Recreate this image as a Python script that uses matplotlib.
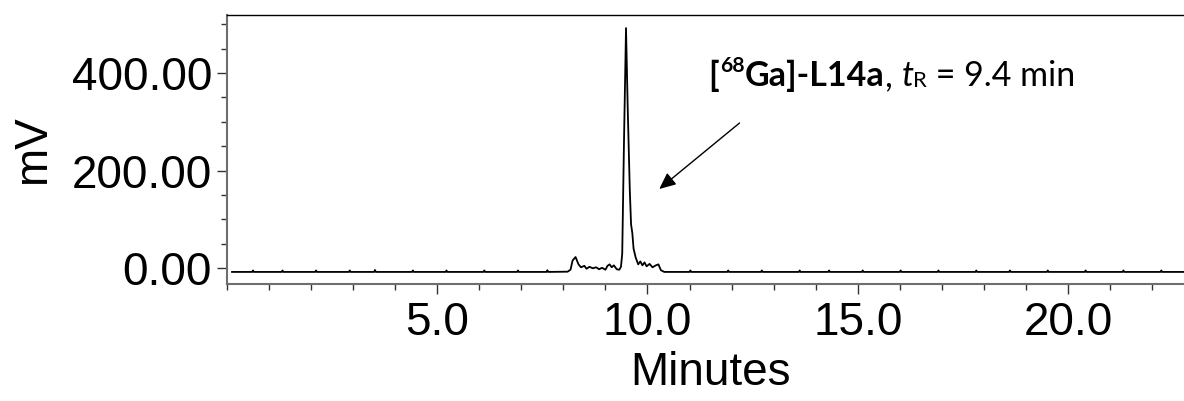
import matplotlib
matplotlib.use("Agg")
import matplotlib.pyplot as plt
from matplotlib.ticker import MultipleLocator, FormatStrFormatter

# Chromatogram trace (minutes, mV)
time_min = [0.12, 0.60, 0.62, 0.64, 1.30, 1.32, 1.34, 2.10, 2.12, 2.14,
            2.90, 2.92, 2.94, 3.50, 3.52, 3.54, 4.40, 4.42, 4.44, 5.20,
            5.22, 5.24, 6.10, 6.12, 6.14, 6.90, 6.92, 6.94, 7.60, 7.62,
            7.64, 8.10, 8.17, 8.22, 8.29, 8.36, 8.42, 8.50, 8.55, 8.62,
            8.70, 8.78, 8.85, 8.92, 9.00, 9.05, 9.10, 9.15, 9.20, 9.27,
            9.33, 9.37, 9.40, 9.44, 9.49, 9.53, 9.58, 9.61, 9.64, 9.67,
            9.72, 9.78, 9.83, 9.88, 9.93, 9.98, 10.05, 10.12, 10.20, 10.26,
            10.32, 10.40, 11.00, 11.02, 11.04, 11.90, 11.92, 11.94, 12.70, 12.72,
            12.74, 13.60, 13.62, 13.64, 14.30, 14.32, 14.34, 15.10, 15.12, 15.14,
            16.00, 16.02, 16.04, 16.90, 16.92, 16.94, 17.80, 17.82, 17.84, 18.60,
            18.62, 18.64, 19.50, 19.52, 19.54, 20.40, 20.42, 20.44, 21.30, 21.32,
            21.34, 22.20, 22.22, 22.24, 22.80]
signal_mv = [-7.5, -7.5, -4.5, -7.5, -7.5, -4.5, -7.5, -7.5, -4.5, -7.5,
             -7.5, -4.5, -7.5, -7.5, -3.5, -7.5, -7.5, -4.5, -7.5, -7.5,
             -4.5, -7.5, -7.5, -4.5, -7.5, -7.5, -4.5, -7.5, -7.5, -4.0,
             -7.5, -7.0, -3.0, 16.0, 23.0, 8.0, 2.0, 5.0, -1.0, 3.0,
             0.0, 2.0, -2.0, 1.0, -3.0, 5.0, 8.0, 2.0, 6.0, -2.0,
             -3.0, 3.0, 30.0, 250.0, 492.0, 330.0, 160.0, 90.0, 72.0, 40.0,
             22.0, 8.0, 14.0, 6.0, 12.0, 4.0, 9.0, 2.0, 6.0, 8.0,
             -4.0, -7.5, -7.5, -4.5, -7.5, -7.5, -4.5, -7.5, -7.5, -4.5,
             -7.5, -7.5, -4.5, -7.5, -7.5, -4.5, -7.5, -7.5, -4.5, -7.5,
             -7.5, -4.5, -7.5, -7.5, -4.5, -7.5, -7.5, -4.5, -7.5, -7.5,
             -4.5, -7.5, -7.5, -4.5, -7.5, -7.5, -4.5, -7.5, -7.5, -4.5,
             -7.5, -7.5, -4.5, -7.5, -7.5]

x_major_ticks = [5.0, 10.0, 15.0, 20.0]
y_major_ticks = [0.0, 200.0, 400.0]
x_label = "Minutes"
y_label = "mV"

plt.rcParams["font.family"] = ["Liberation Sans", "DejaVu Sans"]

fig = plt.figure(figsize=(11.84, 4.01), dpi=100)
ax = fig.add_axes([0.1917, 0.2918, 0.8083, 0.6708])

ax.plot(time_min, signal_mv, color="black", linewidth=1.3)

ax.set_xlim(0, 22.76)
ax.set_ylim(-32.2, 518.8)

ax.set_xticks(x_major_ticks)
ax.set_yticks(y_major_ticks)
ax.xaxis.set_minor_locator(MultipleLocator(1))
ax.yaxis.set_minor_locator(MultipleLocator(50))
ax.xaxis.set_major_formatter(FormatStrFormatter("%.1f"))
ax.yaxis.set_major_formatter(FormatStrFormatter("%.2f"))

spine_gray = "#6e6e6e"
ax.spines["right"].set_visible(False)
ax.spines["top"].set_color("black")
ax.spines["top"].set_linewidth(1.0)
for s in ("left", "bottom"):
    ax.spines[s].set_color(spine_gray)
    ax.spines[s].set_linewidth(1.5)

ax.tick_params(axis="both", which="major", length=7.2, width=1.0,
               color="#333333", labelsize=33, pad=3.5)
ax.tick_params(axis="both", which="minor", length=4.5, width=1.0,
               color="#333333")
ax.tick_params(axis="x", which="major", pad=5)

ax.set_xlabel(x_label, fontsize=33)
ax.xaxis.set_label_coords((711 - 227) / 957, (284 - 373) / 269)
ax.xaxis.label.set_va("center")
ax.set_ylabel(y_label, fontsize=33, va="center")
ax.yaxis.set_label_coords((33 - 227) / 957, 0.5)

# Annotation (rich text built from pieces)
ann_font = ["Lato", "DejaVu Sans"]
fs = 24.5
t1 = ax.text(11.45, 373, "[", fontsize=fs, fontweight="bold",
             family=ann_font, va="baseline", ha="left")
t2 = ax.annotate("68", xy=(1, 0), xycoords=t1, xytext=(0.5, 12),
                 textcoords="offset points", fontsize=fs * 0.62,
                 fontweight="bold", family=ann_font, va="bottom", ha="left")
t3 = ax.annotate("Ga]-L14a", xy=(1, 0), xycoords=t2, xytext=(0.5, -12),
                 textcoords="offset points", fontsize=fs, fontweight="bold",
                 family=ann_font, va="bottom", ha="left")
t4 = ax.annotate(", ", xy=(1, 0), xycoords=t3, fontsize=fs,
                 family=ann_font, va="bottom", ha="left")
t5 = ax.annotate("t", xy=(1, 0), xycoords=t4, fontsize=fs, style="italic",
                 family=ann_font, va="bottom", ha="left")
t6 = ax.annotate("R", xy=(1, 0), xycoords=t5, xytext=(0, 1),
                 textcoords="offset points", fontsize=fs * 0.65,
                 family=ann_font, va="bottom", ha="left")
t7 = ax.annotate(" = 9.4 min", xy=(1, 0), xycoords=t6, xytext=(0, -1),
                 textcoords="offset points", fontsize=fs,
                 family=ann_font, va="bottom", ha="left")

ax.annotate("", xy=(10.28, 162.4), xytext=(12.19, 297.6),
            arrowprops=dict(arrowstyle="-|>,head_length=1.0,head_width=0.45",
                            color="black", lw=1.0, shrinkA=0, shrinkB=0))

fig.savefig("out.png", dpi=100)
